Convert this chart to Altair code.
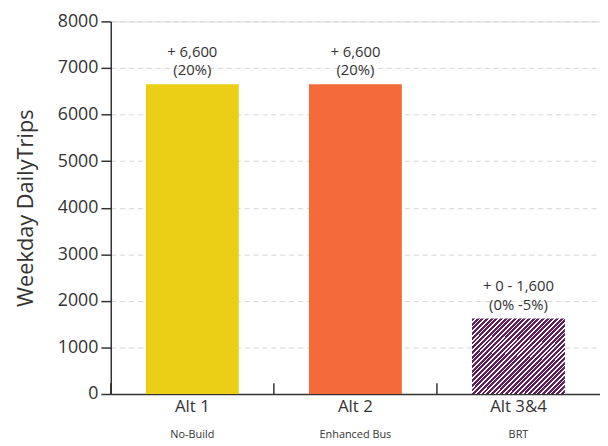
import altair as alt
import pandas as pd

categories = ["Alt 1", "Alt 2", "Alt 3&4"]
subtitles = ["No-Build", "Enhanced Bus", "BRT"]
values = [6650, 6650, 1620]
annotations = ["+ 6,600\n(20%)", "+ 6,600\n(20%)", "+ 0 - 1,600\n(0% -5%)"]
bar_colors = ["#EBCF17", "#F26B38", "#5E1F5C"]

df = pd.DataFrame({
    "cat": categories,
    "sub": subtitles,
    "val": values,
    "ann": annotations,
    "col": bar_colors,
})

W, H = 495, 377
FONT = "Open Sans"
TXT = "#333333"

# diagonal hatch via hard-stop linear gradient
purple = "#5E1F5C"
N = 36
frac = 0.62
stops = []
for i in range(N):
    s = i / N
    m = (i + frac) / N
    e = (i + 1) / N
    stops += [
        {"offset": s, "color": purple},
        {"offset": m, "color": purple},
        {"offset": m, "color": "#ffffff"},
        {"offset": e, "color": "#ffffff"},
    ]
hatch = alt.Gradient(gradient="linear", stops=stops, x1=0, y1=0, x2=1.095, y2=0.883)

x_enc = alt.X(
    "cat:N",
    sort=categories,
    title=None,
    axis=alt.Axis(
        labelAngle=0, labelFontSize=17, labelColor=TXT, labelFont=FONT,
        labelPadding=5, tickSize=0, domainColor="#333333", domainWidth=1.5,
    ),
    scale=alt.Scale(paddingInner=0, paddingOuter=0),
)
y_enc = alt.Y(
    "val:Q",
    title="Weekday DailyTrips",
    scale=alt.Scale(domain=[0, 8000]),
    axis=alt.Axis(
        values=list(range(0, 8001, 1000)), format="d", labelFontSize=18, labelColor=TXT,
        labelFont=FONT, tickSize=10, tickColor="#333333", tickWidth=1.5,
        domainColor="#333333", domainWidth=1.5, labelPadding=3,
        grid=True, gridDash=[5, 4], gridColor="#d5d5d5",
        titleFontSize=22, titleFont=FONT, titleFontWeight="normal",
        titleColor=TXT, titlePadding=20,
    ),
)

base = alt.Chart(df)

bars = base.transform_filter(alt.datum.cat != "Alt 3&4").mark_bar(size=94).encode(
    x=x_enc, y=y_enc,
    color=alt.Color("col:N", scale=None),
)
hatched = base.transform_filter(alt.datum.cat == "Alt 3&4").mark_bar(size=94, color=hatch).encode(
    x=alt.X("cat:N", sort=categories), y="val:Q",
)
ann = base.mark_text(
    fontSize=15, font=FONT, color=TXT, baseline="bottom", dy=-25,
    lineBreak="\n", lineHeight=19,
).encode(x=alt.X("cat:N", sort=categories), y="val:Q", text="ann:N")
subs = base.mark_text(fontSize=11, font=FONT, color=TXT, baseline="middle").encode(
    x=alt.X("cat:N", sort=categories), y=alt.value(H + 42), text="sub:N",
)
ticks = base.mark_rule(color="#333333", strokeWidth=1.5).encode(
    x=alt.X("cat:N", sort=categories, bandPosition=0),
    y=alt.value(H - 11), y2=alt.value(H),
)

chart = alt.layer(bars, hatched, ann, subs, ticks).properties(
    width=W, height=H, padding={"left": 6, "top": 2, "right": 0, "bottom": 0},
).configure_view(stroke=None).configure(background="white")

chart.save("out.html", embed_options={"renderer": "svg", "actions": False})
